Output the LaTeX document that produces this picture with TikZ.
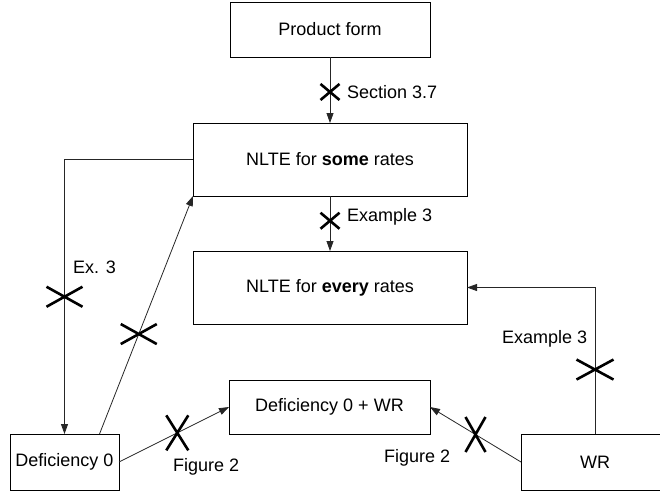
\documentclass[tikz,border=0pt]{standalone}
\usepackage{fontspec}
\setmainfont{Liberation Sans}
\usetikzlibrary{arrows.meta,positioning}

\tikzset{
  box/.style 2 args={draw, line width=0.8pt, minimum width=#1, minimum height=#2,
    inner sep=0pt, outer sep=0pt, font=\fontsize{18}{21}\selectfont},
  conn/.style={line width=0.8pt, draw=black!85, -{Triangle[length=10pt,width=7pt]}},
  lbl/.style={anchor=west, inner sep=0pt, font=\fontsize{18}{21}\selectfont},
  pics/nogo/.style 2 args={code={
    \draw[line width=2.6pt] (-#1,-#2) -- (#1,#2) (-#1,#2) -- (#1,-#2);}}
}

\begin{document}
\begin{tikzpicture}[x=1pt,y=-1pt]
  \useasboundingbox (0,0) rectangle (660,493);

  % boxes
  \node[box={200}{55}] (prod)  at (330,29.5)  {Product form};
  \node[box={274}{73}] (some)  at (330,159.5) {NLTE for \textbf{some} rates};
  \node[box={274}{73}] (every) at (330,287.5) {NLTE for \textbf{every} rates};
  \node[box={201}{54}] (dwr)   at (329.5,407) {Deficiency 0 + WR};
  \node[box={109}{56}] (def)   at (64.5,462)  {Deficiency 0};
  \node[box={148}{56}] (wr)    at (595,462)   {WR};

  % implications
  \draw[conn] (prod) -- coordinate[pos=0.53] (x1) (some);
  \draw[conn] (some) -- coordinate[pos=0.45] (x2) (every);
  \draw[conn] (some.west) -| coordinate[pos=0.75] (x3) (def.north);
  \draw[conn] ([xshift=35]def.north) -- coordinate[pos=0.42] (x4) (some.south west);
  \draw[conn] (def.east) -- coordinate[pos=0.53] (x5) (dwr.west);
  \draw[conn] (wr.west) -- coordinate[pos=0.5] (x6) (dwr.east);
  \draw[conn] (wr.north) |- coordinate[pos=0.22] (x7) (every.east);

  % crosses
  \pic at (x1) {nogo={9.5}{8}};
  \pic at (x2) {nogo={9.5}{8}};
  \pic at (x3) {nogo={18}{10}};
  \pic at (x4) {nogo={18}{10}};
  \pic at (x5) {nogo={11}{17.5}};
  \pic at (x6) {nogo={10}{17.5}};
  \pic at (x7) {nogo={18.5}{10}};

  % labels
  \node[lbl] (l1) at (347,92)  {Section 3.7};
  \node[lbl] (l2) at (347,217) {Example 3};
  \node[lbl] (l3) at (73,267)  {Ex. 3};
  \node[lbl] (l5) at (173,467) {Figure 2};
  \node[lbl] (l6) at (384,458) {Figure 2};
  \node[lbl] (l7) at (502,339) {Example 3};
\end{tikzpicture}
\end{document}
